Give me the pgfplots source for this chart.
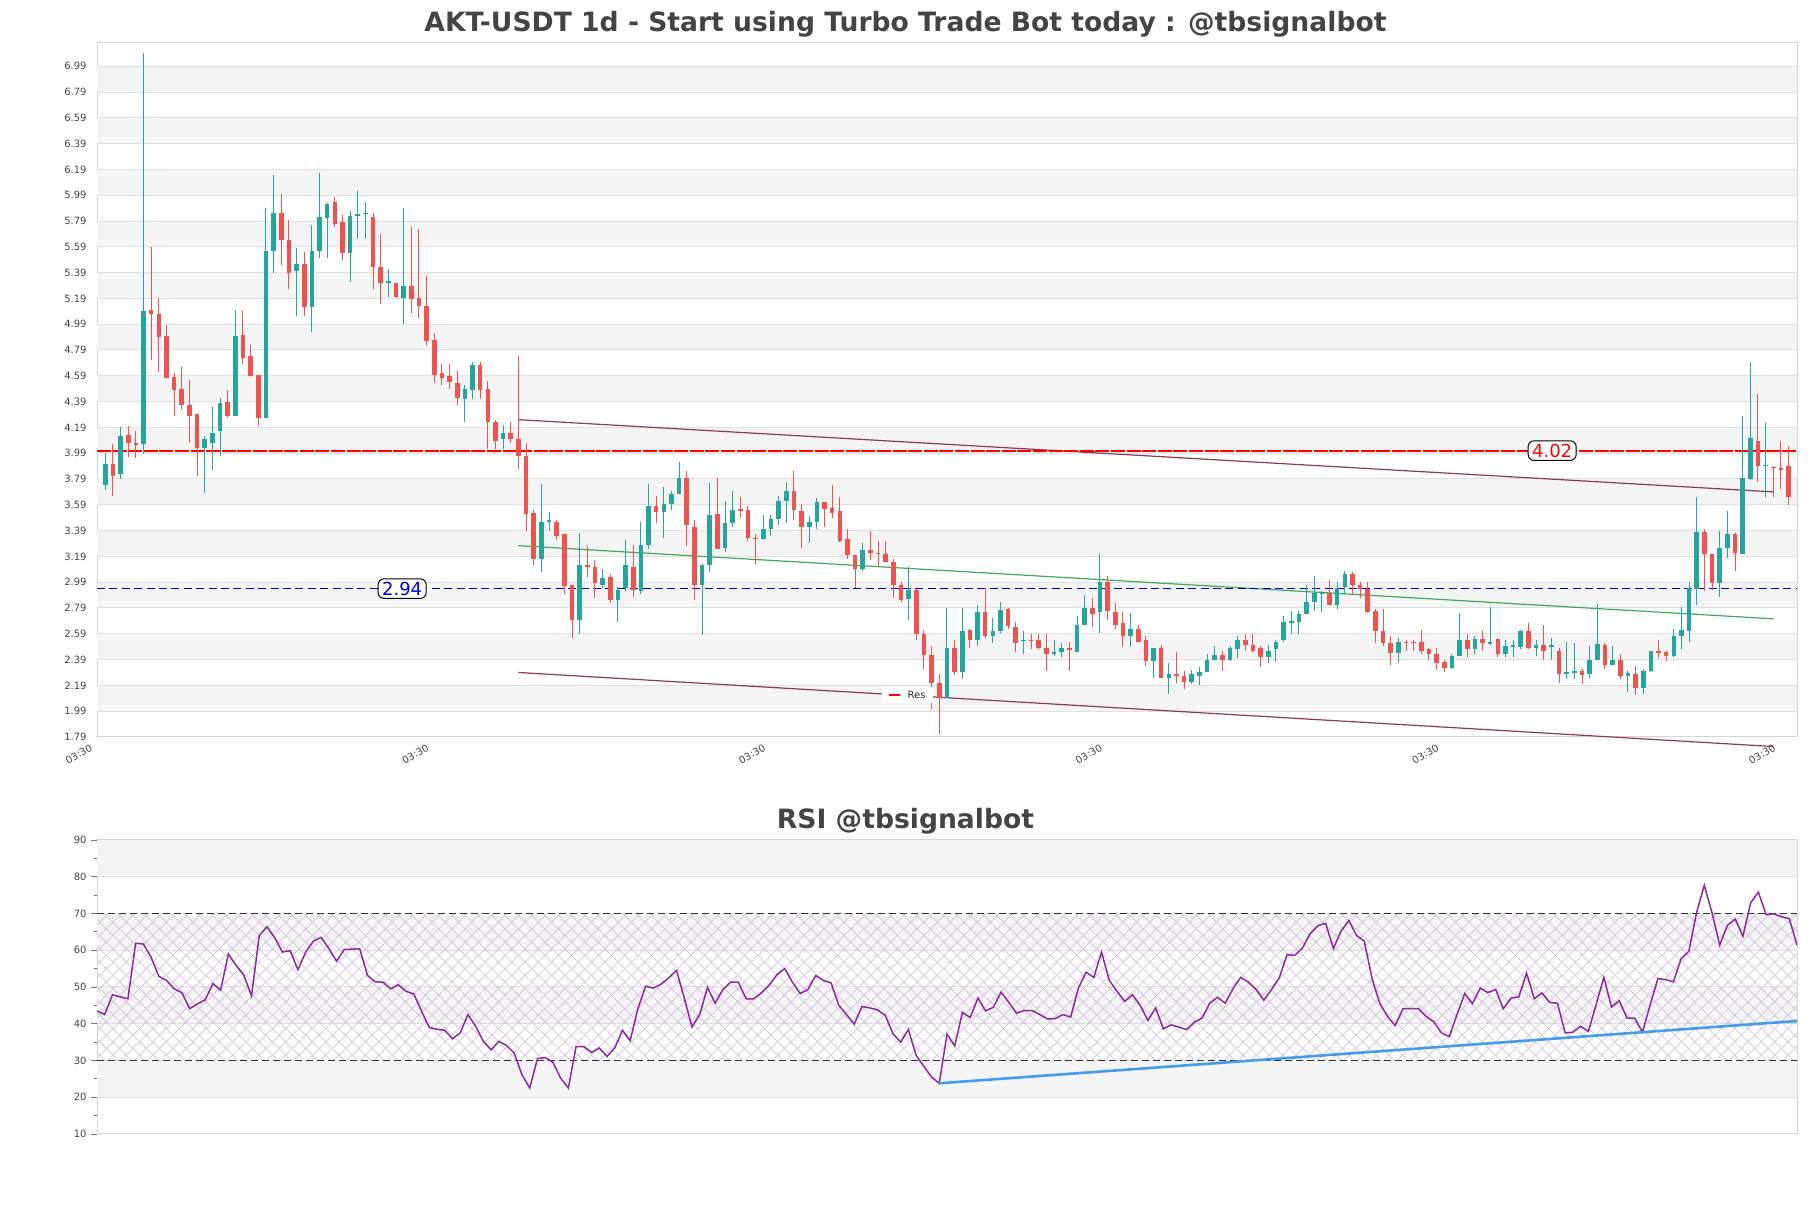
\documentclass[border=0pt]{standalone}
\usepackage{fontspec}
\setmainfont{DejaVu Sans}
\usepackage{pgfplots}
\usepackage{pgfplotstable}
\pgfplotsset{compat=1.18}
\usetikzlibrary{patterns.meta}
\definecolor{cg}{HTML}{26A69A}
\definecolor{cr}{HTML}{EF5350}
\definecolor{bandgray}{HTML}{F4F4F4}
\definecolor{gridc}{HTML}{E0E0E0}
\definecolor{framec}{HTML}{D4D4D4}
\definecolor{txt}{HTML}{444444}
\definecolor{trendm}{HTML}{8B3A52}
\definecolor{trendg}{HTML}{3DAA5A}
\definecolor{rsip}{HTML}{8B2A9B}
\definecolor{rsib}{HTML}{429BEB}
\definecolor{hatchc}{HTML}{D2C3DC}
\definecolor{bluel}{HTML}{0000CD}
\definecolor{dashc}{HTML}{333333}

\pgfplotstableread{
x o h l c
0 3.74 3.99 3.705 3.91
2 3.83 4.19 3.79 4.12
5 4.06 7.09 3.98 5.09
13 4.03 4.12 3.68 4.10
14 4.07 4.35 3.86 4.15
15 4.16 4.42 3.97 4.38
17 4.28 5.10 4.28 4.90
21 4.26 5.89 4.26 5.56
22 5.56 6.15 5.39 5.85
25 5.40 5.58 5.05 5.455
27 5.12 5.76 4.93 5.56
28 5.56 6.16 5.50 5.82
29 5.81 5.93 5.50 5.92
32 5.54 5.87 5.32 5.83
33 5.83 6.02 5.65 5.845
34 5.845 5.935 5.65 5.855
37 5.31 5.42 5.20 5.325
39 5.19 5.89 4.995 5.29
47 4.41 4.52 4.235 4.49
48 4.48 4.70 4.41 4.67
52 4.10 4.21 4.02 4.15
57 3.17 3.75 3.07 3.46
58 3.46 3.535 3.39 3.47
62 2.695 3.37 2.59 3.12
65 2.97 3.09 2.945 3.025
67 2.85 2.955 2.68 2.93
68 2.945 3.32 2.92 3.12
70 2.92 3.46 2.90 3.275
71 3.275 3.75 3.25 3.58
73 3.535 3.73 3.33 3.60
74 3.595 3.70 3.55 3.67
75 3.67 3.92 3.67 3.795
78 2.97 3.13 2.58 3.12
79 3.12 3.76 3.07 3.51
81 3.255 3.62 3.225 3.45
82 3.45 3.70 3.42 3.55
86 3.325 3.51 3.32 3.405
87 3.405 3.51 3.35 3.48
88 3.48 3.66 3.43 3.62
89 3.62 3.77 3.445 3.70
92 3.42 3.50 3.29 3.46
93 3.46 3.64 3.40 3.61
99 3.09 3.29 3.08 3.24
105 2.86 3.11 2.695 2.93
110 2.09 2.79 2.09 2.48
112 2.29 2.79 2.24 2.61
114 2.54 2.815 2.495 2.757
116 2.57 2.71 2.52 2.61
117 2.61 2.84 2.60 2.775
120 2.535 2.61 2.43 2.545
124 2.435 2.54 2.42 2.445
125 2.445 2.52 2.41 2.48
127 2.45 2.73 2.45 2.66
128 2.655 2.89 2.655 2.79
130 2.757 3.21 2.60 2.995
134 2.575 2.75 2.49 2.63
137 2.38 2.48 2.25 2.48
139 2.25 2.36 2.125 2.28
142 2.22 2.31 2.20 2.275
143 2.265 2.33 2.195 2.29
144 2.29 2.435 2.29 2.39
145 2.39 2.495 2.385 2.425
147 2.385 2.495 2.38 2.48
148 2.47 2.575 2.40 2.54
152 2.41 2.50 2.36 2.46
153 2.47 2.54 2.37 2.53
154 2.54 2.73 2.53 2.68
155 2.68 2.765 2.59 2.685
156 2.68 2.765 2.585 2.74
157 2.74 2.965 2.74 2.835
158 2.835 3.04 2.765 2.905
159 2.905 2.92 2.757 2.915
161 2.815 2.99 2.78 2.945
162 2.955 3.08 2.895 3.05
169 2.44 2.56 2.36 2.53
176 2.325 2.435 2.32 2.42
177 2.42 2.755 2.42 2.54
179 2.47 2.575 2.43 2.55
181 2.51 2.80 2.505 2.53
183 2.435 2.54 2.41 2.495
184 2.495 2.54 2.41 2.50
185 2.49 2.62 2.47 2.61
187 2.48 2.54 2.42 2.505
189 2.495 2.56 2.385 2.50
191 2.28 2.53 2.24 2.29
192 2.285 2.52 2.24 2.30
194 2.28 2.495 2.245 2.385
195 2.385 2.82 2.385 2.51
197 2.35 2.495 2.35 2.385
199 2.265 2.30 2.14 2.285
201 2.17 2.315 2.125 2.305
202 2.30 2.46 2.29 2.455
205 2.42 2.63 2.41 2.575
206 2.575 2.80 2.47 2.62
207 2.61 2.99 2.53 2.945
208 2.94 3.65 2.815 3.38
211 2.98 3.39 2.875 3.255
212 3.255 3.545 3.18 3.36
214 3.21 4.28 3.21 3.80
215 3.79 4.70 3.785 4.106
217 3.89 4.225 3.65 3.90
}\greentab

\pgfplotstableread{
x o h l c
1 3.91 4.06 3.66 3.81
3 4.13 4.20 3.96 4.07
4 4.07 4.16 3.95 4.06
6 5.10 5.59 4.71 5.07
7 5.07 5.19 4.62 4.89
8 4.90 4.98 4.57 4.57
9 4.58 4.61 4.28 4.48
10 4.49 4.66 4.33 4.36
11 4.36 4.56 4.07 4.28
12 4.29 4.29 3.81 4.03
16 4.39 4.48 4.26 4.28
18 4.91 5.09 4.68 4.73
19 4.74 4.83 4.59 4.59
20 4.60 4.60 4.20 4.26
23 5.85 6.00 5.45 5.64
24 5.645 5.80 5.265 5.39
26 5.46 5.55 5.05 5.12
30 5.94 5.98 5.745 5.77
31 5.78 5.835 5.49 5.54
35 5.825 5.85 5.265 5.43
36 5.43 5.69 5.15 5.31
38 5.31 5.31 5.19 5.20
40 5.29 5.74 5.075 5.185
41 5.19 5.73 5.04 5.13
42 5.13 5.36 4.83 4.86
43 4.87 4.925 4.535 4.60
44 4.615 4.68 4.52 4.57
45 4.59 4.68 4.485 4.545
46 4.535 4.625 4.365 4.42
49 4.67 4.70 4.41 4.48
50 4.49 4.55 4.02 4.23
51 4.23 4.245 4.02 4.085
53 4.15 4.235 4.07 4.10
54 4.10 4.74 3.87 3.97
55 3.97 4.07 3.39 3.52
56 3.525 3.55 3.12 3.17
59 3.46 3.47 3.32 3.35
60 3.36 3.36 2.90 2.96
61 2.97 2.97 2.56 2.695
63 3.12 3.27 3.03 3.11
64 3.11 3.16 2.87 2.98
66 3.03 3.05 2.83 2.85
69 3.11 3.28 2.875 2.93
72 3.58 3.66 3.445 3.535
76 3.795 3.85 3.27 3.43
77 3.42 3.47 2.85 2.965
80 3.52 3.795 3.25 3.25
83 3.555 3.65 3.49 3.545
84 3.55 3.58 3.31 3.33
85 3.335 3.36 3.13 3.325
90 3.70 3.85 3.47 3.55
91 3.545 3.60 3.255 3.42
94 3.61 3.61 3.42 3.56
95 3.565 3.74 3.49 3.53
96 3.545 3.65 3.30 3.31
97 3.325 3.405 3.17 3.20
98 3.20 3.20 2.945 3.09
100 3.24 3.39 3.16 3.22
101 3.22 3.31 3.11 3.205
102 3.21 3.31 3.15 3.15
103 3.15 3.17 2.87 2.965
104 2.965 2.995 2.84 2.85
106 2.93 2.94 2.54 2.585
107 2.585 2.62 2.32 2.425
108 2.425 2.495 2.004 2.205
109 2.205 2.28 1.81 2.09
111 2.48 2.54 2.27 2.29
113 2.62 2.63 2.48 2.54
115 2.76 2.945 2.56 2.575
118 2.78 2.79 2.63 2.65
119 2.645 2.68 2.45 2.52
121 2.545 2.59 2.47 2.535
122 2.54 2.585 2.47 2.48
123 2.48 2.585 2.30 2.435
126 2.48 2.53 2.30 2.47
129 2.79 2.87 2.645 2.747
131 2.99 3.04 2.695 2.77
132 2.76 2.83 2.63 2.66
133 2.67 2.757 2.49 2.575
135 2.63 2.66 2.53 2.53
136 2.54 2.575 2.34 2.38
138 2.48 2.50 2.245 2.245
140 2.28 2.45 2.21 2.265
141 2.26 2.30 2.16 2.22
146 2.425 2.455 2.30 2.385
149 2.54 2.585 2.46 2.505
150 2.505 2.585 2.45 2.46
151 2.48 2.495 2.33 2.41
160 2.91 3.01 2.81 2.81
163 3.05 3.07 2.895 2.965
164 2.965 2.99 2.87 2.94
165 2.94 2.99 2.755 2.76
166 2.77 2.78 2.52 2.61
167 2.61 2.78 2.495 2.52
168 2.52 2.575 2.35 2.44
170 2.53 2.54 2.46 2.52
171 2.525 2.54 2.46 2.52
172 2.53 2.62 2.435 2.46
173 2.47 2.48 2.385 2.43
174 2.435 2.48 2.31 2.36
175 2.37 2.385 2.29 2.325
178 2.54 2.585 2.41 2.47
180 2.55 2.61 2.46 2.52
182 2.55 2.56 2.41 2.435
186 2.61 2.67 2.47 2.48
188 2.505 2.66 2.385 2.455
190 2.46 2.48 2.205 2.28
193 2.305 2.315 2.20 2.27
196 2.505 2.52 2.315 2.35
198 2.385 2.435 2.24 2.26
200 2.28 2.34 2.115 2.17
203 2.455 2.54 2.40 2.445
204 2.45 2.455 2.38 2.42
209 3.38 3.40 2.92 3.21
210 3.21 3.21 2.93 2.98
213 3.36 3.37 3.08 3.22
216 4.085 4.45 3.77 3.89
218 3.885 3.89 3.65 3.875
219 3.875 4.085 3.715 3.865
220 3.89 4.045 3.59 3.65
}\redtab

\pgfplotstableread{
j r
0 43.5
1 42.5
2 47.9
3 47.3
4 46.8
5 61.9
6 61.7
7 58.1
8 52.9
9 51.8
10 49.5
11 48.4
12 44.1
13 45.4
14 46.5
15 50.9
16 49.1
17 59.0
18 55.9
19 53.2
20 47.6
21 64.0
22 66.4
23 63.4
24 59.5
25 59.9
26 54.7
27 59.5
28 62.5
29 63.5
30 60.5
31 57.0
32 60.2
33 60.3
34 60.4
35 53.2
36 51.4
37 51.3
38 49.5
39 50.6
40 48.8
41 48.1
42 43.4
43 39.0
44 38.5
45 38.2
46 35.9
47 37.5
48 42.5
49 39.3
50 35.2
51 32.9
52 35.2
53 34.1
54 32.0
55 26.1
56 22.5
57 30.5
58 30.8
59 29.5
60 25.2
61 22.5
62 33.8
63 33.8
64 32.2
65 33.4
66 31.1
67 33.4
68 38.2
69 35.4
70 44.1
71 50.2
72 49.7
73 50.8
74 52.5
75 54.5
76 47.0
77 39.1
78 42.5
79 49.9
80 45.6
81 49.3
82 51.3
83 51.3
84 46.8
85 46.8
86 48.4
87 50.5
88 53.4
89 55.0
90 51.3
91 48.2
92 49.3
93 53.1
94 51.8
95 51.1
96 45.0
97 42.5
98 39.9
99 44.7
100 44.3
101 43.8
102 42.3
103 37.3
104 35.0
105 38.4
106 31.4
107 28.4
108 25.5
109 23.8
110 37.2
111 34.0
112 43.1
113 41.7
114 47.0
115 43.5
116 44.5
117 48.6
118 45.8
119 42.9
120 43.6
121 43.6
122 42.5
123 41.3
124 41.4
125 42.5
126 41.8
127 49.7
128 54.0
129 52.6
130 59.5
131 51.8
132 48.8
133 46.1
134 47.9
135 45.0
136 40.9
137 44.3
138 38.6
139 39.7
140 39.1
141 38.4
142 40.4
143 41.5
144 45.6
145 47.2
146 45.6
147 49.5
148 52.6
149 51.3
150 49.3
151 46.4
152 49.3
153 52.5
154 58.8
155 58.6
156 60.6
157 64.5
158 66.7
159 67.3
160 60.5
161 65.2
162 68.1
163 64.0
164 62.5
165 52.3
166 45.6
167 42.0
168 39.5
169 44.1
170 44.1
171 44.1
172 42.0
173 40.5
174 37.5
175 36.5
176 42.5
177 48.2
178 45.5
179 49.7
180 48.5
181 49.3
182 44.1
183 47.0
184 47.3
185 53.8
186 46.8
187 48.4
188 45.8
189 45.6
190 37.5
191 37.7
192 39.3
193 37.9
194 45.2
195 52.6
196 44.5
197 46.3
198 41.5
199 41.5
200 37.7
201 45.2
202 52.3
203 52.0
204 51.4
205 57.7
206 59.7
207 70.2
208 77.7
209 70.2
210 61.4
211 66.8
212 68.5
213 63.8
214 72.9
215 75.8
216 69.7
217 69.9
218 69.1
219 68.6
220 61.4
}\rsitab

\pgfplotsset{candle/.style={draw=none, mark=none, mark size=0pt, forget plot,
  error bars/.cd, y dir=both, y explicit, error mark=none}}

\begin{document}
\begin{tikzpicture}
\path[use as bounding box] (0,0) rectangle (905.5pt,604pt);
\node[text=txt, font=\fontsize{13.3}{15}\selectfont\bfseries] at (452.75pt,591.8pt) {AKT-USDT 1d - Start using Turbo Trade Bot today : @tbsignalbot};
\node[text=txt, font=\fontsize{13.3}{15}\selectfont\bfseries] at (452.75pt,193.3pt) {RSI @tbsignalbot};

\begin{axis}[
  at={(48.5pt,235.5pt)}, anchor=south west,
  scale only axis, width=850pt, height=347pt,
  xmin=-1.08, xmax=221.1, ymin=1.79, ymax=7.17,
  clip=false,
  axis line style={draw=framec, line width=0.5pt},
  tick pos=left,
  major tick length=0pt,
  xtick={-1,43,87,131,175,219},
  xticklabels={03:30,03:30,03:30,03:30,03:30,03:30},
  xticklabel style={rotate=30, anchor=north east, inner sep=0pt, xshift=-5pt, yshift=-0.5pt},
  ytick={1.79,1.99,2.19,2.39,2.59,2.79,2.99,3.19,3.39,3.59,3.79,3.99,4.19,4.39,4.59,4.79,4.99,5.19,5.39,5.59,5.79,5.99,6.19,6.39,6.59,6.79,6.99},
  yticklabel style={inner sep=0pt, xshift=-5pt, /pgf/number format/fixed, /pgf/number format/fixed zerofill, /pgf/number format/precision=2},
  tick label style={font=\fontsize{5}{6}\selectfont, text=txt},
  /pgf/number format/assume math mode=true,
]
% bands
\pgfplotsinvokeforeach{1.99,2.39,2.79,3.19,3.59,3.99,4.39,4.79,5.19,5.59,5.99,6.39,6.79}{
  \fill[bandgray] (axis cs:-1.08,#1) rectangle (axis cs:221.1,{#1+0.2});
}
\pgfplotsinvokeforeach{1.99,2.19,2.39,2.59,2.79,2.99,3.19,3.39,3.59,3.79,3.99,4.19,4.39,4.59,4.79,4.99,5.19,5.39,5.59,5.79,5.99,6.19,6.39,6.59,6.79,6.99}{
  \draw[gridc, line width=0.5pt] (axis cs:-1.08,#1) -- (axis cs:221.1,#1);
}
% trend lines
\addplot[trendm, line width=0.6pt, forget plot] coordinates {(54,4.25) (218,3.69)};
\addplot[trendm, line width=0.6pt, forget plot] coordinates {(54,2.29) (218,1.716)};
\addplot[trendg, line width=0.6pt, forget plot] coordinates {(54,3.273) (218,2.706)};
% levels
\addplot[red, line width=1.0pt, dash pattern=on 7pt off 0.8pt, forget plot] coordinates {(-1.08,4.01) (221.1,4.01)};
\addplot[bluel, line width=0.5pt, dash pattern=on 4pt off 2.2pt, forget plot] coordinates {(-1.08,2.94) (221.1,2.94)};
% wicks
\addplot[candle, error bar style={draw=cg, line width=0.5pt}]
  table[x=x, y expr={(\thisrow{h}+\thisrow{l})/2}, y error expr={(\thisrow{h}-\thisrow{l})/2}] {\greentab};
\addplot[candle, error bar style={draw=cr, line width=0.5pt}]
  table[x=x, y expr={(\thisrow{h}+\thisrow{l})/2}, y error expr={(\thisrow{h}-\thisrow{l})/2}] {\redtab};
% bodies
\addplot[candle, error bar style={draw=cg, line width=2.3pt}]
  table[x=x, y expr={(\thisrow{o}+\thisrow{c})/2}, y error expr={max(abs(\thisrow{c}-\thisrow{o})/2,0.004)}] {\greentab};
\addplot[candle, error bar style={draw=cr, line width=2.3pt}]
  table[x=x, y expr={(\thisrow{o}+\thisrow{c})/2}, y error expr={max(abs(\thisrow{c}-\thisrow{o})/2,0.004)}] {\redtab};
% labels
\node[draw=black, fill=white, rounded corners=3pt, text=red, font=\fontsize{9}{10}\selectfont, inner xsep=2pt, inner ysep=1.5pt, line width=0.5pt] at (axis cs:189.1,4.01) {4.02};
\node[draw=black, fill=white, rounded corners=3pt, text=bluel, font=\fontsize{9}{10}\selectfont, inner xsep=2pt, inner ysep=1.5pt, line width=0.5pt] at (axis cs:38.8,2.94) {2.94};
\node[fill=white, inner xsep=3.5pt, inner ysep=2pt, font=\fontsize{5}{6}\selectfont, text=black!85] at (axis cs:104.8,2.116) {\textcolor{red}{\rule[0.55ex]{5.5pt}{0.9pt}}\hspace{4pt}Res};
\end{axis}

\begin{axis}[
  at={(48.5pt,37pt)}, anchor=south west,
  scale only axis, width=850pt, height=147pt,
  xmin=0, xmax=220, ymin=10, ymax=90,
  axis line style={draw=framec, line width=0.5pt},
  xtick=\empty,
  ytick={10,20,30,40,50,60,70,80,90},
  minor ytick={15,25,35,45,55,65,75,85},
  tick pos=left, tick align=outside,
  major tick length=2.8pt, minor tick length=1.6pt,
  tick style={draw=black!55, line width=0.4pt},
  yticklabel style={inner sep=0pt, xshift=-2.2pt},
  tick label style={font=\fontsize{5}{6}\selectfont, text=txt},
  /pgf/number format/assume math mode=true,
]
\pgfplotsinvokeforeach{20,40,60,80}{
  \fill[bandgray] (axis cs:0,#1) rectangle (axis cs:220,{#1+10});
}
\pgfplotsinvokeforeach{20,40,50,60,80}{
  \draw[gridc, line width=0.5pt] (axis cs:0,#1) -- (axis cs:220,#1);
}
\fill[pattern={Lines[angle=45,distance=4.7pt,line width=0.35pt]}, pattern color=hatchc] (axis cs:0,30) rectangle (axis cs:220,70);
\fill[pattern={Lines[angle=-45,distance=4.7pt,line width=0.35pt]}, pattern color=hatchc] (axis cs:0,30) rectangle (axis cs:220,70);
\draw[dashc, line width=0.6pt, dash pattern=on 3.5pt off 2pt] (axis cs:0,70) -- (axis cs:220,70);
\draw[dashc, line width=0.6pt, dash pattern=on 3.5pt off 2pt] (axis cs:0,30) -- (axis cs:220,30);
\addplot[rsip, line width=0.75pt, forget plot] table[x=j, y=r] {\rsitab};
\addplot[rsib, line width=1.3pt, forget plot] coordinates {(109,23.8) (220,40.75)};
\end{axis}
\end{tikzpicture}
\end{document}
